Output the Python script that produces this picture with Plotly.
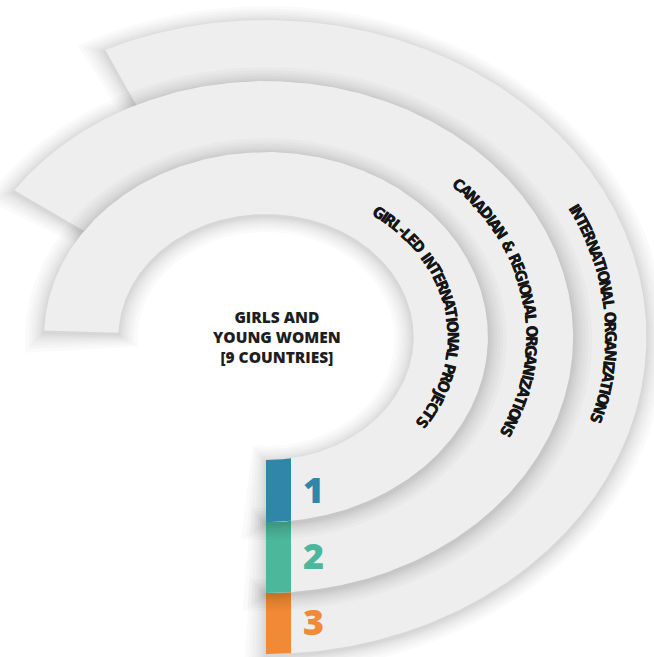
import numpy as np
import plotly.graph_objects as go

# ---------------- data ----------------
center_lines = ["GIRLS AND", "YOUNG WOMEN", "[9 COUNTRIES]"]
ring_labels = [
    "GIRL-LED INTERNATIONAL PROJECTS",
    "CANADIAN & REGIONAL ORGANIZATIONS",
    "INTERNATIONAL ORGANIZATIONS",
]
ring_numbers = ["1", "2", "3"]
ring_colors = ["#2F86A8", "#4DB79B", "#F08A36"]

# ---------------- layout / style ----------------
W, H = 654, 657
CX, CY = 266, 337          # pixel centre of the rings
SX = 1.2                   # horizontal stretch of the rings
radii = [123, 185, 256, 317]          # ring boundaries (vertical px)
start_angles = [178, 145, 115]        # where each band begins (deg)
end_angle = -90                       # all bands end straight down
text_spans = [(53, -33), (43.5, -25.2), (26.7, -16.3)]
text_radii = [155.5, 221, 287]
RING_FILL = "#EEEEEE"
BAR_W = 25 / SX

fig = go.Figure()


def sector(r_in, r_out, a0, a1, n=400, dy=0.0):
    t = np.radians(np.linspace(a0, a1, n))
    xo, yo = r_out * np.cos(t), r_out * np.sin(t)
    xi, yi = r_in * np.cos(t[::-1]), r_in * np.sin(t[::-1])
    x = np.concatenate([xo, xi, xo[:1]])
    y = np.concatenate([yo, yi, yo[:1]]) + dy
    return x, y


def add_poly(x, y, color):
    fig.add_trace(go.Scatter(x=x, y=y, mode="lines", fill="toself",
                             fillcolor=color, line=dict(width=0),
                             hoverinfo="skip", showlegend=False))


def char_w(c):
    table = {"I": 0.28, " ": 0.28, "-": 0.34, ".": 0.22, "L": 0.46, "J": 0.38,
             "T": 0.50, "E": 0.50, "F": 0.48, "S": 0.52, "R": 0.56, "P": 0.54,
             "C": 0.55, "Z": 0.50, "M": 0.76, "W": 0.82, "&": 0.66, "G": 0.60,
             "O": 0.62, "N": 0.62, "A": 0.60, "D": 0.62}
    return table.get(c, 0.58)


# draw bands from outermost to innermost so inner ones sit on top
for k in [2, 1, 0]:
    r_in, r_out = radii[k], radii[k + 1]
    a0 = start_angles[k]
    rm = (r_in + r_out) / 2
    # soft shadow
    for d in [16, 13, 10.5, 8, 6, 4.2, 2.7, 1.3]:
        da = np.degrees(d / rm)
        x, y = sector(r_in - d, r_out + d, a0 + da, end_angle - da, dy=-2)
        add_poly(x, y, "rgba(0,0,0,0.021)")
    # band
    x, y = sector(r_in, r_out, a0, end_angle)
    add_poly(x, y, RING_FILL)
    # coloured end block
    xs = np.linspace(0, BAR_W, 40)
    yi = -np.sqrt(r_in ** 2 - xs ** 2)
    yo = -np.sqrt(r_out ** 2 - xs ** 2)
    bx = np.concatenate([xs, xs[::-1], xs[:1]])
    by = np.concatenate([yi, yo[::-1], yi[:1]])
    add_poly(bx, by, ring_colors[k])

annotations = []

# curved labels
for k, label in enumerate(ring_labels):
    r = text_radii[k]
    a0, a1 = text_spans[k]
    t = np.radians(np.linspace(a0, a1, 3000))
    px = SX * r * np.cos(t)
    py = r * np.sin(t)
    s = np.concatenate([[0], np.cumsum(np.hypot(np.diff(px), np.diff(py)))])
    w = np.array([char_w(c) for c in label])
    centers = np.cumsum(w) - w / 2
    centers = (centers - centers[0]) / (centers[-1] - centers[0]) * s[-1]
    for c, sc in zip(label, centers):
        if c == " ":
            continue
        tt = np.interp(sc, s, t)
        ang = np.degrees(np.arctan2(r * np.cos(tt), SX * r * np.sin(tt)))
        annotations.append(dict(
            x=r * np.cos(tt), y=r * np.sin(tt), xref="x", yref="y",
            text=c, showarrow=False, textangle=ang,
            xanchor="center", yanchor="middle",
            font=dict(family="DejaVu Sans Condensed, Liberation Sans Narrow, Roboto",
                      size=15.5, color="#161616", weight="bold",
                      shadow="0.45px 0px 0px #161616")))

# numbers on the coloured blocks
for k, num in enumerate(ring_numbers):
    rm = (radii[k] + radii[k + 1]) / 2
    annotations.append(dict(
        x=47 / SX, y=-rm + 2, xref="x", yref="y", text=num, showarrow=False,
        xanchor="center", yanchor="middle",
        font=dict(family="Open Sans", size=36, color=ring_colors[k], weight=800)))

# centre text
annotations.append(dict(
    x=11 / SX, y=0, xref="x", yref="y", text="<br>".join(center_lines),
    showarrow=False, xanchor="center", yanchor="middle", align="center",
    font=dict(family="Open Sans", size=15.5, color="#1e1e1e", weight=800)))

fig.update_layout(
    width=W, height=H, margin=dict(l=0, r=0, t=0, b=0),
    paper_bgcolor="white", plot_bgcolor="white",
    xaxis=dict(range=[-CX / SX, (W - CX) / SX], visible=False, fixedrange=True),
    yaxis=dict(range=[-(H - CY), CY], visible=False, fixedrange=True),
    annotations=annotations, showlegend=False, hovermode=False,
)

fig.write_html("out.html",
               config={"displayModeBar": False, "staticPlot": True},
               post_script="document.body.style.margin='0';"
                           "document.body.style.overflow='hidden';")
